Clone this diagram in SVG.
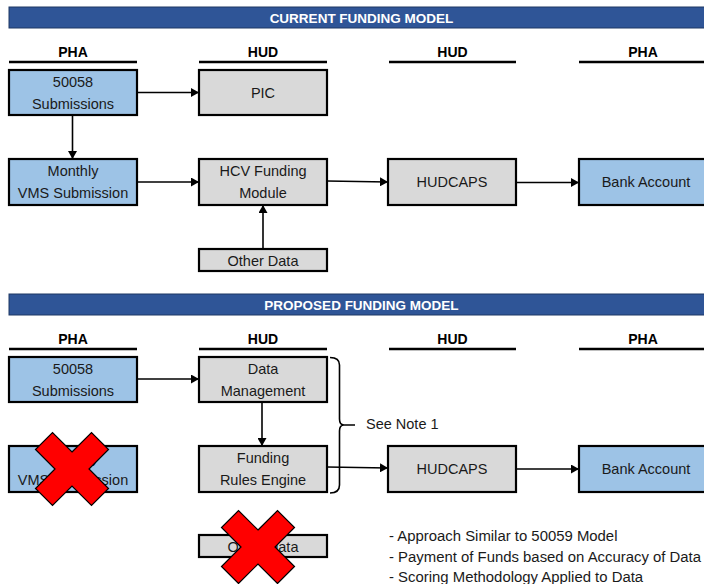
<svg xmlns="http://www.w3.org/2000/svg" width="704" height="584" viewBox="0 0 704 584">
<style>
  .banner { fill: #2f5597; stroke: #1f3864; stroke-width: 1; }
  .btxt { font-family: "Liberation Sans", Arial, sans-serif; font-weight: bold; font-size: 13.5px; fill: #ffffff; text-anchor: middle; dominant-baseline: central; }
  .htxt { font-family: "Liberation Sans", Arial, sans-serif; font-weight: bold; font-size: 14px; fill: #000; text-anchor: middle; dominant-baseline: central; }
  .uline { stroke: #000; stroke-width: 2.5; }
  .blue { fill: #9dc3e6; stroke: #000; stroke-width: 2.2; }
  .gray { fill: #d9d9d9; stroke: #000; stroke-width: 2.2; }
  .t { font-family: "Liberation Sans", Arial, sans-serif; font-size: 14.5px; fill: #1a1a1a; text-anchor: middle; dominant-baseline: central; }
  .note { font-family: "Liberation Sans", Arial, sans-serif; font-size: 14.5px; fill: #1a1a1a; dominant-baseline: central; }
  .bul { font-family: "Liberation Sans", Arial, sans-serif; font-size: 14.9px; fill: #1a1a1a; dominant-baseline: central; }
  .conn { stroke: #000; stroke-width: 1.6; fill: none; }
  .xmark { fill: #ff0000; stroke: #000; stroke-width: 1.2; stroke-linejoin: miter; }
</style>
<defs>
  <marker id="arr" markerUnits="userSpaceOnUse" markerWidth="9" markerHeight="9" refX="8" refY="4.5" orient="auto">
    <path d="M0,0 L8,4.5 L0,9 z" fill="#000"/>
  </marker>
  <polygon id="xshape" points="0,-17 19.5,-36.5 36.5,-19.5 17,0 36.5,19.5 19.5,36.5 0,17 -19.5,36.5 -36.5,19.5 -17,0 -36.5,-19.5 -19.5,-36.5"/>
</defs>
<rect width="704" height="584" fill="#ffffff"/>

<!-- Section 1 -->
<g id="banner-current">
  <rect class="banner" x="9" y="7" width="710" height="21"/>
  <text class="btxt" x="361.5" y="18">CURRENT FUNDING MODEL</text>
</g>
<g id="headers-current">
  <text class="htxt" x="73" y="52">PHA</text>
  <text class="htxt" x="263" y="52">HUD</text>
  <text class="htxt" x="452.5" y="52">HUD</text>
  <text class="htxt" x="643" y="52">PHA</text>
  <line class="uline" x1="9" y1="62" x2="137" y2="62"/>
  <line class="uline" x1="199" y1="62" x2="327" y2="62"/>
  <line class="uline" x1="389" y1="62" x2="516" y2="62"/>
  <line class="uline" x1="579" y1="62" x2="710" y2="62"/>
</g>

<g id="c-50058">
  <rect class="blue" x="9" y="70" width="128" height="45"/>
  <text class="t" x="73" y="82">50058</text>
  <text class="t" x="73" y="104">Submissions</text>
</g>
<g id="c-pic">
  <rect class="gray" x="199" y="70" width="128" height="45"/>
  <text class="t" x="263" y="93">PIC</text>
</g>
<g id="c-vms">
  <rect class="blue" x="9" y="159" width="128" height="46"/>
  <text class="t" x="73" y="171">Monthly</text>
  <text class="t" x="73" y="193">VMS Submission</text>
</g>
<g id="c-hcv">
  <rect class="gray" x="199" y="159" width="128" height="46"/>
  <text class="t" x="263" y="171">HCV Funding</text>
  <text class="t" x="263" y="193">Module</text>
</g>
<g id="c-hudcaps">
  <rect class="gray" x="388" y="159" width="128" height="46"/>
  <text class="t" x="452" y="182">HUDCAPS</text>
</g>
<g id="c-bank">
  <rect class="blue" x="579" y="159" width="132" height="46"/>
  <text class="t" x="646" y="182">Bank Account</text>
</g>
<g id="c-other">
  <rect class="gray" x="199" y="249" width="128" height="22"/>
  <text class="t" x="263" y="261">Other Data</text>
</g>

<!-- Section 2 -->
<g id="banner-proposed">
  <rect class="banner" x="9" y="294" width="710" height="21"/>
  <text class="btxt" x="361.5" y="305">PROPOSED FUNDING MODEL</text>
</g>
<g id="headers-proposed">
  <text class="htxt" x="73" y="339">PHA</text>
  <text class="htxt" x="263" y="339">HUD</text>
  <text class="htxt" x="452.5" y="339">HUD</text>
  <text class="htxt" x="643" y="339">PHA</text>
  <line class="uline" x1="9" y1="349" x2="137" y2="349"/>
  <line class="uline" x1="199" y1="349" x2="327" y2="349"/>
  <line class="uline" x1="389" y1="349" x2="516" y2="349"/>
  <line class="uline" x1="579" y1="349" x2="710" y2="349"/>
</g>

<g id="p-50058">
  <rect class="blue" x="9" y="357" width="128" height="45"/>
  <text class="t" x="73" y="369">50058</text>
  <text class="t" x="73" y="391">Submissions</text>
</g>
<g id="p-datamgmt">
  <rect class="gray" x="199" y="357" width="128" height="45"/>
  <text class="t" x="263" y="369">Data</text>
  <text class="t" x="263" y="391">Management</text>
</g>
<g id="p-vms">
  <rect class="blue" x="9" y="446" width="128" height="46"/>
  <text class="t" x="73" y="458">Monthly</text>
  <text class="t" x="73" y="480">VMS Submission</text>
  <use href="#xshape" class="xmark" transform="translate(72,469)"/>
</g>
<g id="p-rules">
  <rect class="gray" x="199" y="446" width="128" height="46"/>
  <text class="t" x="263" y="458">Funding</text>
  <text class="t" x="263" y="480">Rules Engine</text>
</g>
<g id="p-hudcaps">
  <rect class="gray" x="388" y="446" width="128" height="46"/>
  <text class="t" x="452" y="469">HUDCAPS</text>
</g>
<g id="p-bank">
  <rect class="blue" x="579" y="446" width="132" height="46"/>
  <text class="t" x="646" y="469">Bank Account</text>
</g>
<g id="p-other">
  <rect class="gray" x="199" y="535" width="128" height="22"/>
  <text class="t" x="263" y="547">Other Data</text>
  <use href="#xshape" class="xmark" transform="translate(258,547)"/>
</g>

<g id="note">
  <path class="conn" d="M330,357.5 Q339.5,357.5 339.5,365 L339.5,419 Q339.5,425 344,425 L355,425 M344,425 Q339.5,425 339.5,431 L339.5,485 Q339.5,493 330,493"/>
  <text class="note" x="366" y="424">See Note 1</text>
</g>
<g id="bullets">
  <text class="bul" x="389" y="536">- Approach Similar to 50059 Model</text>
  <text class="bul" x="389" y="557">- Payment of Funds based on Accuracy of Data</text>
  <text class="bul" x="389" y="577">- Scoring Methodology Applied to Data</text>
</g>

<g id="connectors">
  <line class="conn" x1="137" y1="92.5" x2="199" y2="92.5" marker-end="url(#arr)"/>
  <line class="conn" x1="72.5" y1="115" x2="72.5" y2="159" marker-end="url(#arr)"/>
  <line class="conn" x1="137" y1="182" x2="199" y2="182" marker-end="url(#arr)"/>
  <line class="conn" x1="327" y1="181" x2="388" y2="182" marker-end="url(#arr)"/>
  <line class="conn" x1="516" y1="182.5" x2="579" y2="182.5" marker-end="url(#arr)"/>
  <line class="conn" x1="263" y1="249" x2="263" y2="205" marker-end="url(#arr)"/>
  <line class="conn" x1="137" y1="379" x2="199" y2="379" marker-end="url(#arr)"/>
  <line class="conn" x1="262" y1="402" x2="262" y2="446" marker-end="url(#arr)"/>
  <line class="conn" x1="327" y1="467" x2="388" y2="468" marker-end="url(#arr)"/>
  <line class="conn" x1="516" y1="469" x2="579" y2="469" marker-end="url(#arr)"/>
</g>
</svg>
